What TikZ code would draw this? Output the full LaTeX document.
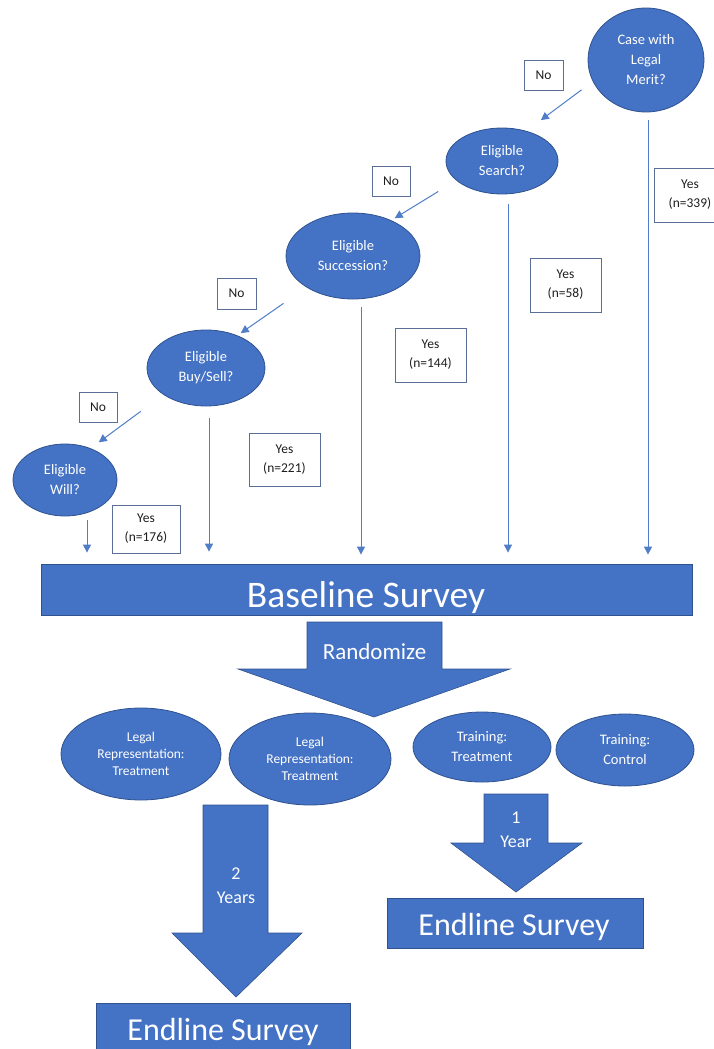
\documentclass[tikz,border=0pt]{standalone}
\usepackage{fontspec}
\setmainfont{Carlito}
\usetikzlibrary{shapes.geometric,arrows.meta,positioning,calc}
\definecolor{C_blue}{RGB}{68,114,196}
\definecolor{C_edge}{RGB}{47,82,143}
\definecolor{C_line}{RGB}{80,125,200}
\definecolor{C_boxline}{RGB}{90,110,150}
\definecolor{C_ink}{RGB}{30,30,30}

\begin{document}
\begin{tikzpicture}[x=1pt, y=-1pt]
  \tikzset{
    question/.style={ellipse, draw=C_edge, fill=C_blue, line width=0.8pt, text=white, align=center, inner sep=0pt, font=\fontsize{14.5}{20}\selectfont},
    arm/.style={question, font=\fontsize{13.5}{17}\selectfont},
    tag/.style={rectangle, draw=C_boxline, fill=white, line width=0.8pt, text=C_ink, align=center, inner sep=0pt, font=\fontsize{13.5}{19}\selectfont},
    survey/.style={rectangle, draw=C_edge, fill=C_blue, line width=0.8pt, inner sep=0pt},
    surveytext/.style={text=white, inner sep=0pt, anchor=base},
    flow/.style={-{Triangle[length=8pt,width=8pt]}, C_line, line width=1pt},
    blockarrow/.style={fill=C_blue, draw=C_edge, line width=0.6pt},
    blocktext/.style={text=white, align=center, inner sep=0pt, font=\fontsize{18}{24}\selectfont}
  }
  \useasboundingbox (0,0) rectangle (714,1049);
  \clip (0,0) rectangle (714,1049);

  \node[question, minimum width=116, minimum height=104] (merit) at (646,60) {Case with\\Legal\\Merit?};
  \node[question, minimum width=112, minimum height=66] (search) at (502,161) {Eligible\\Search?};
  \node[question, minimum width=134, minimum height=86] (succ) at (353,256) {Eligible\\Succession?};
  \node[question, minimum width=118, minimum height=76] (buysell) at (206,368) {Eligible\\Buy/Sell?};
  \node[question, minimum width=104, minimum height=72] (will) at (65,480) {Eligible\\Will?};

  \node[tag, minimum width=39, minimum height=30] (no1) at (543.5,75) {No};
  \node[tag, minimum width=38, minimum height=30] (no2) at (391,181) {No};
  \node[tag, minimum width=39, minimum height=31] (no3) at (236.5,293.5) {No};
  \node[tag, minimum width=38, minimum height=30] (no4) at (98,407) {No};

  \node[tag, minimum width=72, minimum height=54] (yes339) at (690,195) {Yes\\(n=339)};
  \node[tag, minimum width=71, minimum height=54] (yes58) at (565.5,285) {Yes\\(n=58)};
  \node[tag, minimum width=71, minimum height=54] (yes144) at (430.5,355) {Yes\\(n=144)};
  \node[tag, minimum width=71, minimum height=53] (yes221) at (284.5,459.5) {Yes\\(n=221)};
  \node[tag, minimum width=68, minimum height=48] (yes176) at (146,529) {Yes\\(n=176)};

  \draw[flow, shorten <=14pt, shorten >=18pt] (merit.202) -- (search.51);
  \draw[flow, shorten <=21pt, shorten >=4pt] (search.203) -- (succ.43);
  \draw[flow, shorten <=28pt, shorten >=4pt] (succ.214) -- (buysell.46);
  \draw[flow, shorten <=28pt, shorten >=10pt] (buysell.212) -- (will.51);

  \node[survey, minimum width=651, minimum height=51] (base) at (366.5,589.5) {};
  \node[surveytext, font=\fontsize{37.5}{40}\selectfont] (basetxt) at (366,607) {Baseline Survey};

  \draw[flow, shorten <=8pt, shorten >=9pt] ([xshift=2pt]merit.south) -- ([xshift=2pt]merit.south |- base.north);
  \draw[flow, shorten <=10pt, shorten >=11pt] ([xshift=6pt]search.south) -- ([xshift=6pt]search.south |- base.north);
  \draw[flow, shorten <=8pt, shorten >=9pt] ([xshift=8pt]succ.south) -- ([xshift=8pt]succ.south |- base.north);
  \draw[flow, shorten <=12pt, shorten >=12pt] ([xshift=3pt]buysell.south) -- ([xshift=3pt]buysell.south |- base.north);
  \draw[flow, shorten <=4pt, shorten >=11pt] ([xshift=22pt]will.south) -- ([xshift=22pt]will.south |- base.north);

  \draw[blockarrow] (307,622) -- (442,622) -- (442,669) -- (510,669) -- (374,717) -- (238,669) -- (307,669) -- cycle;
  \node[surveytext, font=\fontsize{23}{26}\selectfont] (rand) at (374.5,659) {Randomize};

  \node[arm, minimum width=160, minimum height=92] (lr1) at (141,754) {Legal\\Representation:\\Treatment};
  \node[arm, minimum width=162, minimum height=92] (lr2) at (310,759) {Legal\\Representation:\\Treatment};
  \node[question, minimum width=138, minimum height=70] (tt) at (482,747) {Training:\\Treatment};
  \node[question, minimum width=138, minimum height=72] (tc) at (625,750) {Training:\\Control};

  \draw[blockarrow] (203,805) -- (268,805) -- (268,933) -- (302,933) -- (236,997) -- (172,933) -- (203,933) -- cycle;
  \node[blocktext] (twoyr) at (236,885.5) {2\\Years};
  \draw[blockarrow] (484,794) -- (548,794) -- (548,843) -- (582,843) -- (516,892) -- (451,843) -- (484,843) -- cycle;
  \node[blocktext] (oneyr) at (516,830) {1\\Year};

  \node[survey, minimum width=256, minimum height=50] (endone) at (515,923) {};
  \node[surveytext, font=\fontsize{32}{36}\selectfont] (endonetxt) at (514,935) {Endline Survey};
  \node[survey, minimum width=254, minimum height=52] (endtwo) at (223,1029) {};
  \node[surveytext, font=\fontsize{32}{36}\selectfont] (endtwotxt) at (223,1040) {Endline Survey};
\end{tikzpicture}
\end{document}
